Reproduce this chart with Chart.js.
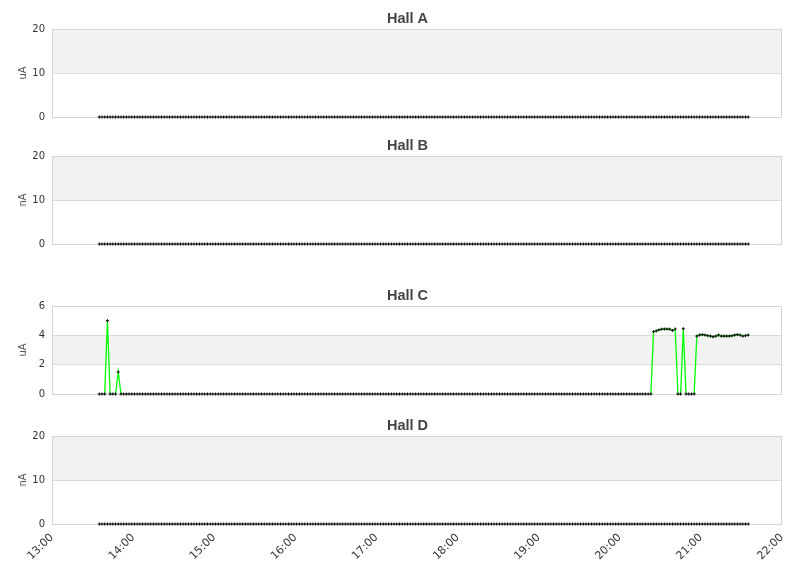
<!DOCTYPE html>
<html><head><meta charset="utf-8">
<script src="https://cdn.jsdelivr.net/npm/chart.js@4.4.0/dist/chart.umd.min.js"></script>
<style>
html,body{margin:0;padding:0;background:#fff;}
#wrap{position:relative;width:811px;height:578px;overflow:hidden;}
canvas{position:absolute;left:0;}
</style></head><body>
<div id="wrap">
<canvas id="c0" width="811" height="125" style="top:0px"></canvas>
<canvas id="c1" width="811" height="125" style="top:127px"></canvas>
<canvas id="c2" width="811" height="125" style="top:277px"></canvas>
<canvas id="c3" width="811" height="171" style="top:407px"></canvas>
</div>
<script>
const times = [
"13:35","13:37","13:39","13:41","13:43","13:45","13:47","13:49","13:51","13:53","13:55","13:57","13:59",
"14:01","14:03","14:05","14:07","14:09","14:11","14:13","14:15","14:17","14:19","14:21","14:23","14:25","14:27","14:29","14:31","14:33","14:35","14:37","14:39","14:41","14:43","14:45","14:47","14:49","14:51","14:53","14:55","14:57","14:59",
"15:01","15:03","15:05","15:07","15:09","15:11","15:13","15:15","15:17","15:19","15:21","15:23","15:25","15:27","15:29","15:31","15:33","15:35","15:37","15:39","15:41","15:43","15:45","15:47","15:49","15:51","15:53","15:55","15:57","15:59",
"16:01","16:03","16:05","16:07","16:09","16:11","16:13","16:15","16:17","16:19","16:21","16:23","16:25","16:27","16:29","16:31","16:33","16:35","16:37","16:39","16:41","16:43","16:45","16:47","16:49","16:51","16:53","16:55","16:57","16:59",
"17:01","17:03","17:05","17:07","17:09","17:11","17:13","17:15","17:17","17:19","17:21","17:23","17:25","17:27","17:29","17:31","17:33","17:35","17:37","17:39","17:41","17:43","17:45","17:47","17:49","17:51","17:53","17:55","17:57","17:59",
"18:01","18:03","18:05","18:07","18:09","18:11","18:13","18:15","18:17","18:19","18:21","18:23","18:25","18:27","18:29","18:31","18:33","18:35","18:37","18:39","18:41","18:43","18:45","18:47","18:49","18:51","18:53","18:55","18:57","18:59",
"19:01","19:03","19:05","19:07","19:09","19:11","19:13","19:15","19:17","19:19","19:21","19:23","19:25","19:27","19:29","19:31","19:33","19:35","19:37","19:39","19:41","19:43","19:45","19:47","19:49","19:51","19:53","19:55","19:57","19:59",
"20:01","20:03","20:05","20:07","20:09","20:11","20:13","20:15","20:17","20:19","20:21","20:23","20:25","20:27","20:29","20:31","20:33","20:35","20:37","20:39","20:41","20:43","20:45","20:47","20:49","20:51","20:53","20:55","20:57","20:59",
"21:01","21:03","21:05","21:07","21:09","21:11","21:13","21:15","21:17","21:19","21:21","21:23","21:25","21:27","21:29","21:31","21:33","21:35"
];

const hallA = [
0,0,0,0,0,0,0,0,0,0, 0,0,0,0,0,0,0,0,0,0, 0,0,0,0,0,0,0,0,0,0, 0,0,0,0,0,0,0,0,0,0,
0,0,0,0,0,0,0,0,0,0, 0,0,0,0,0,0,0,0,0,0, 0,0,0,0,0,0,0,0,0,0, 0,0,0,0,0,0,0,0,0,0,
0,0,0,0,0,0,0,0,0,0, 0,0,0,0,0,0,0,0,0,0, 0,0,0,0,0,0,0,0,0,0, 0,0,0,0,0,0,0,0,0,0,
0,0,0,0,0,0,0,0,0,0, 0,0,0,0,0,0,0,0,0,0, 0,0,0,0,0,0,0,0,0,0, 0,0,0,0,0,0,0,0,0,0,
0,0,0,0,0,0,0,0,0,0, 0,0,0,0,0,0,0,0,0,0, 0,0,0,0,0,0,0,0,0,0, 0,0,0,0,0,0,0,0,0,0,
0,0,0,0,0,0,0,0,0,0, 0,0,0,0,0,0,0,0,0,0, 0,0,0,0,0,0,0,0,0,0, 0,0,0,0,0,0,0,0,0,0,
0
];
const hallB = [
0,0,0,0,0,0,0,0,0,0, 0,0,0,0,0,0,0,0,0,0, 0,0,0,0,0,0,0,0,0,0, 0,0,0,0,0,0,0,0,0,0,
0,0,0,0,0,0,0,0,0,0, 0,0,0,0,0,0,0,0,0,0, 0,0,0,0,0,0,0,0,0,0, 0,0,0,0,0,0,0,0,0,0,
0,0,0,0,0,0,0,0,0,0, 0,0,0,0,0,0,0,0,0,0, 0,0,0,0,0,0,0,0,0,0, 0,0,0,0,0,0,0,0,0,0,
0,0,0,0,0,0,0,0,0,0, 0,0,0,0,0,0,0,0,0,0, 0,0,0,0,0,0,0,0,0,0, 0,0,0,0,0,0,0,0,0,0,
0,0,0,0,0,0,0,0,0,0, 0,0,0,0,0,0,0,0,0,0, 0,0,0,0,0,0,0,0,0,0, 0,0,0,0,0,0,0,0,0,0,
0,0,0,0,0,0,0,0,0,0, 0,0,0,0,0,0,0,0,0,0, 0,0,0,0,0,0,0,0,0,0, 0,0,0,0,0,0,0,0,0,0,
0
];
const hallC = [
0,0,0,5.0,0,0,0,1.5,0,0,
0,0,0,0,0,0,0,0,0,0, 0,0,0,0,0,0,0,0,0,0, 0,0,0,0,0,0,0,0,0,0, 0,0,0,0,0,0,0,0,0,0,
0,0,0,0,0,0,0,0,0,0, 0,0,0,0,0,0,0,0,0,0, 0,0,0,0,0,0,0,0,0,0, 0,0,0,0,0,0,0,0,0,0,
0,0,0,0,0,0,0,0,0,0, 0,0,0,0,0,0,0,0,0,0, 0,0,0,0,0,0,0,0,0,0, 0,0,0,0,0,0,0,0,0,0,
0,0,0,0,0,0,0,0,0,0, 0,0,0,0,0,0,0,0,0,0, 0,0,0,0,0,0,0,0,0,0, 0,0,0,0,0,0,0,0,0,0,
0,0,0,0,0,0,0,0,0,0, 0,0,0,0,0,0,0,0,0,0, 0,0,0,0,0,0,0,0,0,0,
0,0,0,0,0,
4.25,4.30,4.37,4.42,4.43,4.43,4.42,4.33,4.43,0,0,4.45,0,0,0,0,
3.95,4.02,4.05,4.02,3.98,3.95,3.90,3.95,4.02,3.95,3.95,3.95,3.95,3.97,4.02,4.05,4.02,3.95,3.98,4.02
];
const hallD = [
0,0,0,0,0,0,0,0,0,0, 0,0,0,0,0,0,0,0,0,0, 0,0,0,0,0,0,0,0,0,0, 0,0,0,0,0,0,0,0,0,0,
0,0,0,0,0,0,0,0,0,0, 0,0,0,0,0,0,0,0,0,0, 0,0,0,0,0,0,0,0,0,0, 0,0,0,0,0,0,0,0,0,0,
0,0,0,0,0,0,0,0,0,0, 0,0,0,0,0,0,0,0,0,0, 0,0,0,0,0,0,0,0,0,0, 0,0,0,0,0,0,0,0,0,0,
0,0,0,0,0,0,0,0,0,0, 0,0,0,0,0,0,0,0,0,0, 0,0,0,0,0,0,0,0,0,0, 0,0,0,0,0,0,0,0,0,0,
0,0,0,0,0,0,0,0,0,0, 0,0,0,0,0,0,0,0,0,0, 0,0,0,0,0,0,0,0,0,0, 0,0,0,0,0,0,0,0,0,0,
0,0,0,0,0,0,0,0,0,0, 0,0,0,0,0,0,0,0,0,0, 0,0,0,0,0,0,0,0,0,0, 0,0,0,0,0,0,0,0,0,0,
0
];

const panelTitles = ["Hall A","Hall B","Hall C","Hall D"];
const unitLabels = ["uA","nA","uA","nA"];
const panelSeries = [hallA, hallB, hallC, hallD];
const yMaxes = [20, 20, 6, 20];
const ySteps = [10, 10, 2, 10];
const xStartHour = 13, xEndHour = 22;

function toMin(t){ const p = t.split(':'); return (+p[0])*60 + (+p[1]); }

const bandsPlugin = {
  id: 'bands',
  beforeDraw(chart){
    const {ctx, chartArea: a, scales: {y}} = chart;
    ctx.save();
    ctx.fillStyle = '#f2f2f2';
    for (let i = 0; i < y.ticks.length - 1; i++) {
      if (i % 2 === 1) {
        const p0 = y.getPixelForValue(y.ticks[i].value);
        const p1 = y.getPixelForValue(y.ticks[i+1].value);
        ctx.fillRect(a.left, p1, a.right - a.left, p0 - p1);
      }
    }
    ctx.restore();
  },
  beforeDatasetsDraw(chart){
    const {ctx, chartArea: a} = chart;
    ctx.save();
    ctx.strokeStyle = '#d6d6d6';
    ctx.lineWidth = 1;
    ctx.strokeRect(Math.round(a.left) + 0.5, Math.round(a.top) + 0.5,
                   Math.round(a.right - a.left) - 1, Math.round(a.bottom - a.top));
    ctx.restore();
  },
  afterDraw(chart){
    const ctx = chart.ctx;
    ctx.save();
    ctx.fillStyle = '#444';
    ctx.font = 'bold 14.5px "Liberation Sans", Arial, sans-serif';
    ctx.textAlign = 'center';
    ctx.textBaseline = 'middle';
    ctx.fillText(chart.options.plugins.panelTitle.text, 407.5, 18.5);
    ctx.restore();
  }
};

const tickFont = {family: 'DejaVu Sans', size: 10};

panelSeries.forEach((series, idx) => {
  const isBottom = idx === 3;
  const pts = times.map((t, i) => ({x: toMin(t), y: series[i]}));
  new Chart(document.getElementById('c' + idx), {
    type: 'line',
    data: { datasets: [{
      data: pts,
      borderColor: '#00ff00',
      borderWidth: 1.3,
      pointStyle: 'cross',
      pointRadius: 1.5,
      pointBorderColor: '#000',
      pointBorderWidth: 1,
      pointBackgroundColor: '#000',
      tension: 0,
      clip: false,
      segment: {
        borderColor: c => (c.p0.parsed.y === 0 && c.p1.parsed.y === 0) ? 'rgba(0,0,0,0)' : '#00ff00'
      }
    }]},
    options: {
      responsive: false,
      animation: false,
      events: [],
      layout: { padding: {left: 0, right: 29, top: 29, bottom: isBottom ? 0 : 8} },
      plugins: {
        legend: {display: false},
        tooltip: {enabled: false},
        title: {display: false},
        panelTitle: {text: panelTitles[idx]}
      },
      scales: {
        x: {
          type: 'linear', min: xStartHour * 60, max: xEndHour * 60,
          display: isBottom,
          grid: {display: false, drawTicks: false},
          border: {display: false},
          ticks: {
            stepSize: 60, autoSkip: false, maxRotation: 45, minRotation: 45,
            padding: 7, color: '#333', font: {family: 'DejaVu Sans', size: 11},
            callback: v => (v / 60) + ':00'
          },
          afterFit: s => { if (isBottom) s.height = 54; }
        },
        y: {
          min: 0, max: yMaxes[idx],
          grid: {color: '#dcdcdc', drawTicks: false},
          border: {display: false},
          ticks: {stepSize: ySteps[idx], autoSkip: false, padding: 7, color: '#333', font: tickFont},
          title: {display: true, text: unitLabels[idx], color: '#555',
                  font: {family: 'DejaVu Sans', size: 10}, padding: {top: 17, bottom: 0}},
          afterFit: s => { s.width = 52; s.paddingTop = 6; s.paddingBottom = 6; }
        }
      }
    },
    plugins: [bandsPlugin]
  });
});
</script>
</body></html>
